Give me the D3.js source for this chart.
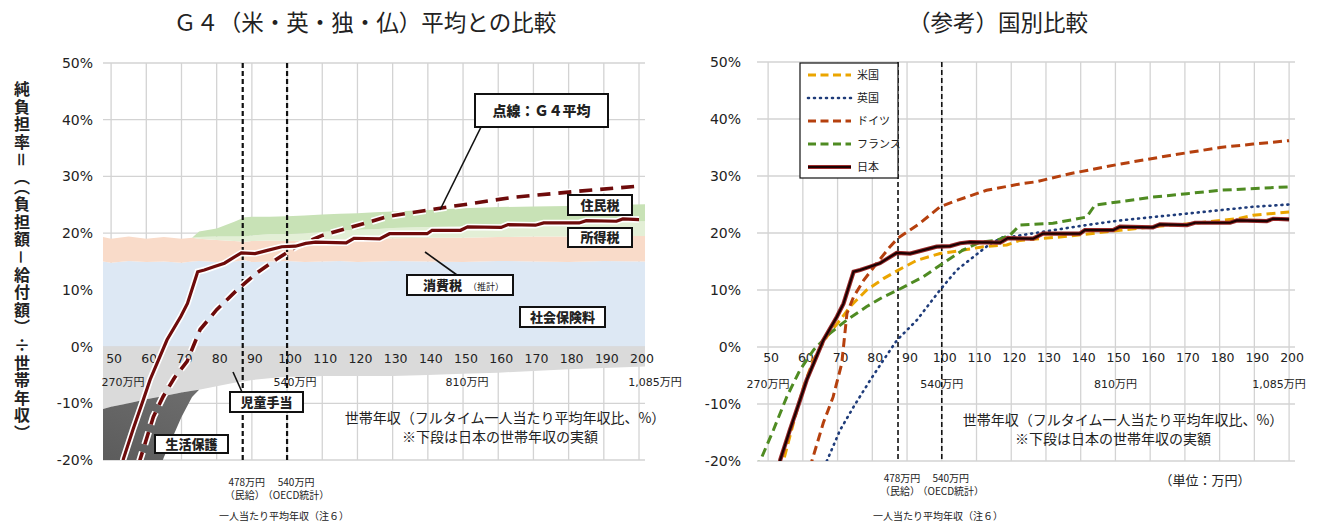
<!DOCTYPE html>
<html>
<head>
<meta charset="utf-8">
<script src="https://cdn.jsdelivr.net/npm/d3@7"></script>
<style>
body { margin: 0; background: #fff; }
svg text { font-family: "Noto Sans CJK JP", sans-serif; fill: #222; }
svg text.num { font-family: "DejaVu Sans", "Noto Sans CJK JP", sans-serif; }
</style>
</head>
<body>
<svg id="chart" width="1319" height="524"></svg>
<script>
// ---- data ----
const catTicks = [50, 60, 70, 80, 90, 100, 110, 120, 130, 140, 150, 160, 170, 180, 190, 200];
const pctTicks = [-20, -10, 0, 10, 20, 30, 40, 50];
const yenAt = [50, 100, 150, 200];
const yenText = ['270万円', '540万円', '810万円', '1,085万円'];
const refLines = [87.4, 100];

// left chart: burden components (% of household income)
const bandX = [47.7, 50, 55, 60, 65, 70, 73, 75, 80, 85, 88, 90, 95, 100, 105, 110, 115, 120, 125, 130, 140, 150, 160, 170, 180, 190, 201.7];
const social = [15.0, 14.8, 15.1, 14.9, 15.0, 14.8, 15.0, 15.1, 14.9, 15.0, 15.2, 14.9, 15.0, 15.1, 14.9, 15.0, 15.1, 14.9, 15.0, 15.1, 15.0, 14.9, 15.1, 15.0, 14.9, 15.1, 15.0];
const consumption = [4.3, 4.2, 4.3, 4.1, 4.3, 4.2, 4.2, 3.9, 3.9, 3.6, 3.3, 3.7, 3.7, 3.5, 3.8, 3.8, 3.8, 4.1, 4.0, 4.0, 4.2, 4.3, 4.2, 4.4, 4.5, 4.4, 4.5];
const incomeTax = [0, 0, 0, 0, 0, 0, 0, 0.3, 0.6, 0.8, 0.9, 1.0, 1.1, 1.2, 1.3, 1.4, 1.5, 1.6, 1.7, 1.8, 1.9, 2.0, 2.2, 2.3, 2.4, 2.5, 2.6];
const residentTax = [0, 0, 0, 0, 0, 0, 0, 1.0, 1.4, 2.6, 3.4, 3.3, 3.1, 3.2, 3.1, 3.1, 3.0, 2.9, 3.0, 2.9, 3.0, 3.2, 3.1, 3.0, 3.0, 2.9, 3.0];
const childAllowance = [-11, -10.6, -10, -9.3, -8.7, -8.1, -7.8, -7.6, -7, -6.4, -6.1, -5.9, -5.6, -5.3, -5.3, -5.2, -5.2, -5.2, -5.2, -5.2, -5.0, -4.8, -4.6, -4.3, -4.0, -3.8, -3.5];
const welfare = [-29, -27.4, -23, -18.7, -10.8, -4.3, -1.1, 0, 0, 0, 0, 0, 0, 0, 0, 0, 0, 0, 0, 0, 0, 0, 0, 0, 0, 0, 0];

// net burden rate lines
const jpX = [50, 53.5, 56.3, 59.2, 61.1, 63.5, 65.9, 69.8, 71.7, 74.6, 76.5, 79.4, 82.2, 85.1, 87, 90.9, 94.7, 98.5, 102.4, 105.3, 108.1, 116.8, 119, 126.3, 129.1, 139.8, 141.2, 149.3, 151.3, 160.8, 162.8, 170.6, 172.9, 183, 185, 193.6, 195.4, 200];
const jpY = [-31, -19.8, -14.5, -9.3, -5.8, -2.3, 1.2, 5.3, 7.6, 13.2, 13.5, 14.1, 14.7, 15.8, 16.5, 16.4, 17, 17.6, 17.7, 18.2, 18.4, 18.3, 19.1, 19, 19.9, 19.9, 20.5, 20.5, 21.1, 21, 21.5, 21.4, 21.8, 21.8, 22.2, 22.1, 22.5, 22.4];
const g4X = [55, 58.2, 62, 64.8, 68, 71.6, 75.3, 80, 85.8, 91, 97, 102.8, 110, 123.6, 129, 143.5, 164, 183, 200];
const g4Y = [-28, -20, -12.4, -8.8, -5.5, -2.6, 3, 6.5, 10, 12.8, 15.4, 17.7, 19.6, 22, 23, 24.4, 26.3, 27.4, 28.3];
const usX = [52, 54.4, 57.3, 60.2, 63, 66.9, 70.7, 73.6, 78.4, 83.2, 87.5, 92.8, 99.5, 106.2, 112, 118.7, 122.5, 134, 147.4, 160.8, 172.4, 185, 189.6, 200];
const usY = [-24, -20, -13.3, -7, -2.3, 1.8, 4.7, 7.1, 10, 12, 13.5, 15.2, 16.4, 17, 17.6, 17.9, 18.7, 19.3, 20.2, 21.1, 21.7, 22.5, 23.1, 23.7];
const ukX = [64, 66.9, 70.7, 74.6, 79.4, 83.2, 87.1, 92.8, 99.5, 104.3, 109.1, 113.9, 117.7, 119.6, 132.1, 141.7, 151.3, 160.8, 170.6, 180.1, 189.6, 200];
const ukY = [-25, -20, -14.6, -10.5, -5.8, -2.3, 1.2, 4.7, 10, 13.5, 15.8, 18.1, 19.3, 19.3, 20.5, 21.4, 22.2, 22.8, 23.4, 24, 24.6, 25];
const deX = [60, 62.6, 65.9, 68.7, 71.2, 71.9, 72.7, 74.6, 77.5, 81.3, 85.1, 87.4, 93.7, 99.5, 103.3, 112.9, 122.5, 127.3, 136.9, 151.3, 165.7, 180.1, 189.6, 200];
const deY = [-26, -20, -13.3, -8.8, -2.9, 1.2, 5.9, 8.8, 11.7, 14.7, 17.6, 19.1, 21.7, 24.6, 25.5, 27.5, 28.6, 29, 30.4, 32.1, 33.6, 35, 35.6, 36.2];
const frX = [46.8, 47.7, 51.5, 55.4, 59.2, 63.1, 67.8, 72.6, 78.4, 83.2, 87.4, 94.6, 100.4, 106.1, 111, 115.8, 119.6, 122.5, 132, 141.7, 144.1, 151.3, 160.8, 170.6, 180.1, 200];
const frY = [-21.5, -20, -14.6, -8.7, -4, -0.5, 2.4, 4.7, 7.1, 8.8, 10, 12.3, 14.7, 17, 18.4, 18.7, 19.6, 21.4, 21.7, 22.8, 24.9, 25.5, 26.3, 26.9, 27.5, 28.1];

const countryNames = ['米国', '英国', 'ドイツ', 'フランス', '日本'];

// ---- drawing ----
const svg = d3.select('#chart');
const gridColor = '#d3d3d3';

const left = {
    id: 'clipL',
    x: d3.scaleLinear().domain([47.7, 201.7]).range([103, 645]),
    y: d3.scaleLinear().domain([-20, 50]).range([460, 63]),
};
const right = {
    id: 'clipR',
    x: d3.scaleLinear().domain([46.8, 201.7]).range([757, 1295]),
    y: d3.scaleLinear().domain([-20, 50]).range([461, 62]),
};

const defs = svg.append('defs');
[left, right].forEach((s) => {
    defs.append('clipPath').attr('id', s.id).append('rect')
        .attr('x', s.x.range()[0])
        .attr('y', s.y.range()[1])
        .attr('width', s.x.range()[1] - s.x.range()[0])
        .attr('height', s.y.range()[0] - s.y.range()[1]);
});
const grad = defs.append('linearGradient').attr('id', 'darkGray')
    .attr('x1', 0).attr('y1', 1).attr('x2', 1).attr('y2', 0);
grad.append('stop').attr('offset', '0%').attr('stop-color', '#4a4a4a');
grad.append('stop').attr('offset', '100%').attr('stop-color', '#8c8c8c');

function drawGrid(s) {
    const g = svg.append('g');
    g.selectAll('line.v').data(catTicks).enter().append('line')
        .attr('x1', d => s.x(d)).attr('x2', d => s.x(d))
        .attr('y1', s.y.range()[1]).attr('y2', s.y.range()[0])
        .attr('stroke', gridColor).attr('stroke-width', 1.3);
    g.selectAll('line.h').data(pctTicks).enter().append('line')
        .attr('x1', s.x.range()[0]).attr('x2', s.x.range()[1])
        .attr('y1', d => s.y(d)).attr('y2', d => s.y(d))
        .attr('stroke', gridColor).attr('stroke-width', 1.3);
}

function drawYAxis(s, xPos) {
    const ax = svg.append('g')
        .attr('transform', `translate(${xPos},0)`)
        .call(d3.axisLeft(s.y).tickValues(pctTicks).tickFormat(d => `${d}%`).tickSize(0).tickPadding(0));
    ax.select('.domain').remove();
    ax.selectAll('text')
        .attr('class', 'num')
        .style('font-size', '14px')
        .style('font-family', '"DejaVu Sans", sans-serif')
        .attr('fill', '#222');
}

function drawCatLabels(s, yNum, yYen, yenDx) {
    svg.append('g').selectAll('text').data(catTicks).enter().append('text')
        .attr('class', 'num')
        .attr('x', d => s.x(d) + 3)
        .attr('y', yNum)
        .attr('text-anchor', 'middle')
        .style('font-size', '12.5px')
        .text(d => d);
    svg.append('g').selectAll('text').data(yenAt).enter().append('text')
        .attr('class', 'num')
        .attr('x', (d, i) => s.x(d) + yenDx[i])
        .attr('y', yYen)
        .attr('text-anchor', 'middle')
        .style('font-size', '11px')
        .text((d, i) => yenText[i]);
}

function drawRefLines(s, w) {
    svg.append('g').selectAll('line').data(refLines).enter().append('line')
        .attr('x1', d => s.x(d)).attr('x2', d => s.x(d))
        .attr('y1', s.y.range()[1]).attr('y2', s.y.range()[0])
        .attr('stroke', '#111').attr('stroke-width', w)
        .attr('stroke-dasharray', '5,3');
}

function drawNotes(s, cx, dy) {
    const g = svg.append('g').style('font-size', '10px');
    const x1 = s.x(refLines[0]) + 4;
    const x2 = s.x(refLines[1]) + 9;
    g.append('text').attr('x', x1).attr('y', 486 + dy).attr('text-anchor', 'middle').text('478万円');
    g.append('text').attr('x', x1 - 2).attr('y', 499 + dy).attr('text-anchor', 'middle').text('（民給）');
    g.append('text').attr('x', x2).attr('y', 486 + dy).attr('text-anchor', 'middle').text('540万円');
    g.append('text').attr('x', x2).attr('y', 499 + dy).attr('text-anchor', 'middle').text('（OECD統計）');
    g.append('text').attr('x', cx).attr('y', 520).attr('text-anchor', 'middle').text('一人当たり平均年収（注６）');
}

function drawXTitle(cx1, cx2, y) {
    svg.append('text').attr('x', cx1).attr('y', y).attr('text-anchor', 'middle')
        .style('font-size', '14px').text('世帯年収（フルタイム一人当たり平均年収比、%）');
    svg.append('text').attr('x', cx2).attr('y', y + 19).attr('text-anchor', 'middle')
        .style('font-size', '14px').text('※下段は日本の世帯年収の実額');
}

function labelBox(x, y, w, h, text, size) {
    const g = svg.append('g');
    g.append('rect').attr('x', x).attr('y', y).attr('width', w).attr('height', h)
        .attr('fill', '#fff').attr('stroke', '#111').attr('stroke-width', 2);
    g.append('text').attr('x', x + w / 2).attr('y', y + h / 2 + size * 0.36)
        .attr('text-anchor', 'middle').style('font-size', `${size}px`).style('font-weight', 900)
        .text(text);
    return g;
}

function leader(x1, y1, x2, y2) {
    svg.append('line').attr('x1', x1).attr('y1', y1).attr('x2', x2).attr('y2', y2)
        .attr('stroke', '#111').attr('stroke-width', 1.6);
}

// ===== left chart =====
drawGrid(left);

const rows = bandX.map((v, i) => ({
    v,
    social: social[i],
    consumption: consumption[i],
    income: incomeTax[i],
    resident: residentTax[i],
    child: childAllowance[i],
    welfare: welfare[i],
}));
const posLayers = d3.stack().keys(['social', 'consumption', 'income', 'resident'])(rows);
const negLayers = d3.stack().keys(['child', 'welfare'])(rows);
const bandFill = {
    social: '#dde8f4',
    consumption: '#f9dbc9',
    income: '#e3efd6',
    resident: '#c8e2b6',
    child: '#dadada',
    welfare: 'url(#darkGray)',
};
const area = d3.area()
    .x(d => left.x(d.data.v))
    .y0(d => left.y(d[0]))
    .y1(d => left.y(d[1]));
svg.append('g').attr('clip-path', `url(#${left.id})`)
    .selectAll('path').data(posLayers.concat(negLayers)).enter().append('path')
    .attr('d', area)
    .attr('fill', d => bandFill[d.key]);

drawYAxis(left, 93);
drawCatLabels(left, 363, 386, [12, 8, 4, 16]);
drawRefLines(left, 2.2);

const lineL = d3.line().x(d => left.x(d[0])).y(d => left.y(d[1]));
const gL = svg.append('g').attr('clip-path', `url(#${left.id})`);
gL.append('path').datum(d3.zip(g4X, g4Y)).attr('d', lineL)
    .attr('fill', 'none').attr('stroke', '#fff').attr('stroke-width', 7).attr('stroke-dasharray', '13,8');
gL.append('path').datum(d3.zip(g4X, g4Y)).attr('d', lineL)
    .attr('fill', 'none').attr('stroke', '#6e0b0b').attr('stroke-width', 3.6).attr('stroke-dasharray', '13,8');
gL.append('path').datum(d3.zip(jpX, jpY)).attr('d', lineL)
    .attr('fill', 'none').attr('stroke', '#fff').attr('stroke-width', 6.5);
gL.append('path').datum(d3.zip(jpX, jpY)).attr('d', lineL)
    .attr('fill', 'none').attr('stroke', '#6e0b0b').attr('stroke-width', 3.2);

// left labels
leader(481, 127, 440, 210);
labelBox(475, 94, 133, 33, '点線：Ｇ４平均', 14);
labelBox(568, 195, 64, 20, '住民税', 13);
labelBox(568, 228, 64, 19, '所得税', 13);
leader(457, 275, 425, 252);
const cBox = labelBox(407, 275, 106, 20, '', 13);
cBox.select('text').attr('x', 423).attr('text-anchor', 'start')
    .call(t => t.append('tspan').text('消費税'))
    .call(t => t.append('tspan').attr('dx', 6).style('font-size', '9px').style('font-weight', 400).text('（推計）'));
labelBox(520, 307, 85, 20, '社会保険料', 13);
leader(242, 392, 233, 372);
labelBox(230, 392, 73, 20, '児童手当', 13);
labelBox(155, 435, 73, 18, '生活保護', 13);

drawXTitle(505, 500, 423);
drawNotes(left, 284, 0);

svg.append('text').attr('x', 365).attr('y', 31).attr('text-anchor', 'middle')
    .style('font-size', '22.5px').text('Ｇ４（米・英・独・仏）平均との比較');

svg.append('text')
    .attr('x', 22).attr('y', 81)
    .style('writing-mode', 'vertical-rl')
    .style('font-size', '16px').style('font-weight', 700)
    .style('letter-spacing', '1.6px')
    .attr('fill', '#1a1a2a')
    .text('純負担率＝（（負担額－給付額）÷世帯年収）');

// ===== right chart =====
drawGrid(right);
drawYAxis(right, 741);
drawCatLabels(right, 362, 388, [0, 0, 0, -10]);
drawRefLines(right, 1.6);

const series = [
    { name: countryNames[0], xs: usX, ys: usY, color: '#eba500', width: 3, dash: '9,5' },
    { name: countryNames[1], xs: ukX, ys: ukY, color: '#1f3c7a', width: 2.6, dash: '1,5', cap: 'round' },
    { name: countryNames[2], xs: deX, ys: deY, color: '#b5400e', width: 3, dash: '9,5' },
    { name: countryNames[3], xs: frX, ys: frY, color: '#4f8b22', width: 3, dash: '9,5' },
];
const lineR = d3.line().x(d => right.x(d[0])).y(d => right.y(d[1]));
const gR = svg.append('g').attr('clip-path', `url(#${right.id})`);
gR.selectAll('path.c').data(series).enter().append('path')
    .attr('d', d => lineR(d3.zip(d.xs, d.ys)))
    .attr('fill', 'none')
    .attr('stroke', d => d.color)
    .attr('stroke-width', d => d.width)
    .attr('stroke-dasharray', d => d.dash)
    .attr('stroke-linecap', d => d.cap || 'butt');
gR.append('path').datum(d3.zip(jpX, jpY)).attr('d', lineR)
    .attr('fill', 'none').attr('stroke', '#9a2a2a').attr('stroke-width', 4.2);
gR.append('path').datum(d3.zip(jpX, jpY)).attr('d', lineR)
    .attr('fill', 'none').attr('stroke', '#1c0202').attr('stroke-width', 2.2);

// legend
const lg = svg.append('g');
lg.append('rect').attr('x', 800).attr('y', 63).attr('width', 98).attr('height', 115)
    .attr('fill', '#fff').attr('stroke', '#111').attr('stroke-width', 1.2);
const legendItems = series.concat([{ name: countryNames[4], jp: true }]);
legendItems.forEach((d, i) => {
    const y = 75 + i * 23;
    if (d.jp) {
        lg.append('line').attr('x1', 808).attr('x2', 851).attr('y1', y).attr('y2', y)
            .attr('stroke', '#9a2a2a').attr('stroke-width', 4.2);
        lg.append('line').attr('x1', 808).attr('x2', 851).attr('y1', y).attr('y2', y)
            .attr('stroke', '#1c0202').attr('stroke-width', 2.2);
    } else {
        lg.append('line').attr('x1', 808).attr('x2', 851).attr('y1', y).attr('y2', y)
            .attr('stroke', d.color).attr('stroke-width', d.width)
            .attr('stroke-dasharray', d.cap ? '1,5' : '8,4.5')
            .attr('stroke-linecap', d.cap || 'butt');
    }
    lg.append('text').attr('x', 857).attr('y', y + 4).style('font-size', '11px').text(d.name);
});

drawXTitle(1123, 1113, 425);
drawNotes(right, 938, -4);
svg.append('text').attr('x', 1205).attr('y', 485).attr('text-anchor', 'middle')
    .style('font-size', '13px').text('（単位：万円）');

svg.append('text').attr('x', 998).attr('y', 31).attr('text-anchor', 'middle')
    .style('font-size', '22.5px').text('（参考）国別比較');
</script>
</body>
</html>
